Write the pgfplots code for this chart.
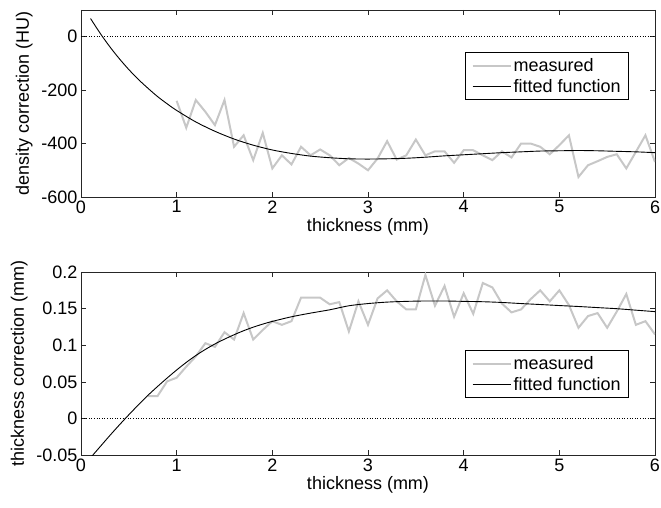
\documentclass[border=0pt]{standalone}
\usepackage{pgfplots}
\pgfplotsset{compat=1.18}
\usepackage{fontspec}
\setmainfont{Liberation Sans}
\definecolor{meas}{gray}{0.78}

\pgfplotstableread{
x y
1.0 -240
1.1 -341
1.2 -237
1.3 -281
1.4 -331
1.5 -237
1.6 -412
1.7 -369
1.8 -462
1.9 -360
2.0 -493
2.1 -444
2.2 -478
2.3 -412
2.4 -444
2.5 -422
2.6 -444
2.7 -481
2.8 -454
2.9 -475
3.0 -500
3.1 -456
3.2 -391
3.3 -460
3.4 -444
3.5 -385
3.6 -444
3.7 -429
3.8 -429
3.9 -472
4.0 -425
4.1 -425
4.2 -444
4.3 -462
4.4 -429
4.5 -452
4.6 -400
4.7 -400
4.8 -412
4.9 -440
5.0 -406
5.1 -369
5.2 -525
5.3 -481
5.4 -466
5.5 -450
5.6 -440
5.7 -493
5.8 -431
5.9 -369
6.0 -469
}\topmeas

\pgfplotstableread{
x y
0.1 68
0.2 13
0.3 -37
0.4 -82
0.5 -123
0.6 -160
0.7 -193
0.8 -224
0.9 -251
1.0 -276
1.2 -319
1.4 -354
1.6 -383
1.8 -406
2.0 -424
2.2 -437
2.4 -447
2.6 -453
2.8 -457
3.0 -458
3.2 -457
3.4 -455
3.6 -451
3.8 -446
4.0 -442
4.2 -438
4.4 -434
4.6 -431
4.8 -428
5.0 -427
5.2 -426
5.4 -427
5.6 -429
5.8 -431
6.0 -434
}\topfit

\pgfplotstableread{
x y
0.7 0.031
0.8 0.031
0.9 0.051
1.0 0.056
1.1 0.071
1.2 0.085
1.3 0.103
1.4 0.098
1.5 0.118
1.6 0.108
1.7 0.144
1.8 0.108
1.9 0.121
2.0 0.133
2.1 0.128
2.2 0.133
2.3 0.165
2.4 0.165
2.5 0.165
2.6 0.156
2.7 0.159
2.8 0.119
2.9 0.160
3.0 0.128
3.1 0.164
3.2 0.175
3.3 0.160
3.4 0.149
3.5 0.149
3.6 0.196
3.7 0.154
3.8 0.181
3.9 0.139
4.0 0.171
4.1 0.143
4.2 0.185
4.3 0.179
4.4 0.157
4.5 0.145
4.6 0.149
4.7 0.163
4.8 0.175
4.9 0.160
5.0 0.175
5.1 0.155
5.2 0.124
5.3 0.140
5.4 0.144
5.5 0.124
5.6 0.146
5.7 0.170
5.8 0.128
5.9 0.133
6.0 0.115
}\botmeas

\pgfplotstableread{
x y
0.1 -0.053
0.2 -0.038
0.3 -0.023
0.4 -0.0085
0.5 0.0055
0.6 0.019
0.7 0.032
0.8 0.044
0.9 0.0555
1.0 0.0665
1.1 0.0768
1.2 0.0862
1.3 0.0945
1.4 0.102
1.5 0.1085
1.6 0.1145
1.7 0.12
1.8 0.1248
1.9 0.129
2.0 0.1327
2.2 0.139
2.4 0.144
2.6 0.1485
2.8 0.154
3.0 0.157
3.2 0.159
3.4 0.160
3.6 0.1605
3.8 0.1605
4.0 0.160
4.2 0.1595
4.4 0.1585
4.6 0.157
4.8 0.1557
5.0 0.1543
5.2 0.153
5.4 0.1515
5.6 0.150
5.8 0.148
6.0 0.146
}\botfit

\begin{document}
\begin{tikzpicture}[x=1pt,y=1pt]
\useasboundingbox (-81pt,-52.5pt) rectangle (580pt,455.5pt);
\pgfplotsset{
  myaxis/.style={
    scale only axis, width=574pt,
    xmin=0, xmax=6,
    xtick={0,1,2,3,4,5,6},
    xticklabels={0,1,2,3,4,5,6},
    font=\fontsize{18}{21}\selectfont,
    tick label style={font=\fontsize{18}{21}\selectfont},
    label style={font=\fontsize{18}{21}\selectfont},
    tick align=inside,
    major tick length=5pt,
    axis line style={line width=0.9pt, black!85},
    every tick/.style={black!85, line width=0.8pt},
    xlabel={thickness (mm)},
    xlabel style={yshift=2pt},
    ylabel style={yshift=2pt},
    legend cell align=left,
    legend style={draw=black, line width=0.9pt, fill=white,
      font=\fontsize{18}{21}\selectfont, inner xsep=6pt, inner ysep=4pt,
      row sep=2pt,
      legend image code/.code={\draw[##1] (0pt,0pt) -- (38pt,0pt);}},
    /pgf/number format/assume math mode=true,
  }
}
\begin{axis}[myaxis, at={(0pt,258.5pt)}, anchor=south west, height=187pt,
  ymin=-600, ymax=100,
  ytick={-600,-400,-200,0}, yticklabels={-600,-400,-200,0},
  ylabel={density correction (HU)},
  legend style={at={(0.955,0.775)}, anchor=north east}]
\addplot[black, dotted, line width=0.6pt, forget plot] coordinates {(0,0) (6,0)};
\addplot[meas, line width=2pt] table[x=x,y=y] {\topmeas};
\addlegendentry{measured}
\addplot[black, line width=0.9pt, smooth] table[x=x,y=y] {\topfit};
\addlegendentry{fitted function}
\end{axis}
\begin{axis}[myaxis, at={(0pt,0pt)}, anchor=south west, height=183.5pt,
  ymin=-0.05, ymax=0.2,
  ytick={-0.05,0,0.05,0.1,0.15,0.2}, yticklabels={-0.05,0,0.05,0.1,0.15,0.2},
  ylabel={thickness correction (mm)},
  legend style={at={(0.955,0.574)}, anchor=north east}]
\addplot[black, dotted, line width=0.6pt, forget plot] coordinates {(0,0) (6,0)};
\addplot[meas, line width=2pt] table[x=x,y=y] {\botmeas};
\addlegendentry{measured}
\addplot[black, line width=0.9pt, smooth] table[x=x,y=y] {\botfit};
\addlegendentry{fitted function}
\end{axis}
\end{tikzpicture}
\end{document}
